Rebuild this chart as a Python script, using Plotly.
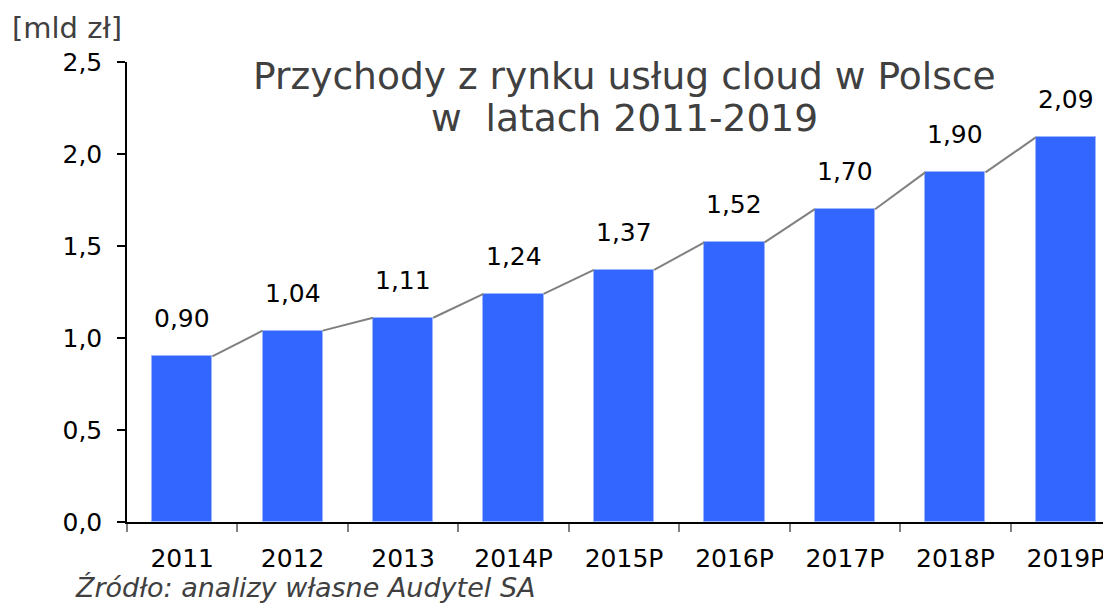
import plotly.graph_objects as go

categories = ["2011", "2012", "2013", "2014P", "2015P", "2016P", "2017P", "2018P", "2019P"]
values = [0.90, 1.04, 1.11, 1.24, 1.37, 1.52, 1.70, 1.90, 2.09]
y_ticks = [0.0, 0.5, 1.0, 1.5, 2.0, 2.5]

FONT = "DejaVu Sans"
BAR_W = 0.545
xs = list(range(len(categories)))

fig = go.Figure()
fig.add_trace(go.Bar(
    x=xs, y=values, width=BAR_W,
    marker=dict(color="#3366FF", line=dict(color="#9DB4FF", width=1)),
    hoverinfo="skip", showlegend=False,
))

# series lines connecting bar tops (Excel-style)
lx, ly = [], []
for i in range(len(values) - 1):
    lx += [xs[i] + BAR_W / 2, xs[i + 1] - BAR_W / 2, None]
    ly += [values[i], values[i + 1], None]
fig.add_trace(go.Scatter(x=lx, y=ly, mode="lines",
                         line=dict(color="#808080", width=2),
                         hoverinfo="skip", showlegend=False))

for x, v in zip(xs, values):
    fig.add_annotation(x=x, y=v, text=f"{v:.2f}".replace(".", ","),
                       showarrow=False, yanchor="bottom", yshift=21,
                       font=dict(family=FONT, size=25, color="#000000"))

fig.add_annotation(xref="paper", yref="paper", x=0.5056, y=0.969,
                   text="Przychody z rynku usług cloud w Polsce",
                   showarrow=False, xanchor="center", yanchor="middle",
                   font=dict(family=FONT, size=37.6, color="#404040"))
fig.add_annotation(xref="paper", yref="paper", x=0.5056, y=0.878,
                   text="w  latach 2011-2019",
                   showarrow=False, xanchor="center", yanchor="middle",
                   font=dict(family=FONT, size=37.6, color="#404040"))
fig.add_annotation(xref="paper", yref="paper", x=-0.119, y=1.074,
                   text="[mld zł]",
                   showarrow=False, xanchor="left", yanchor="middle",
                   font=dict(family=FONT, size=29, color="#404040"))
fig.add_annotation(xref="paper", yref="paper", x=-0.055, y=-0.143,
                   text="<i>Źródło: analizy własne Audytel SA</i>",
                   showarrow=False, xanchor="left", yanchor="middle",
                   font=dict(family=FONT, size=27, color="#404040"))

fig.update_layout(
    width=1103, height=595,
    margin=dict(l=119, r=1, t=54, b=81),
    paper_bgcolor="white", plot_bgcolor="white",
    separators=", ",
    bargap=0,
    font=dict(family=FONT, size=25, color="#000000"),
    xaxis=dict(range=[-0.5, 8.4], tickmode="array", tickvals=xs, ticktext=categories,
               ticks="", showline=True, linecolor="#000000", linewidth=1.5,
               showgrid=False, zeroline=False, ticklabelstandoff=13,
               minor=dict(tickmode="array", tickvals=[i - 0.5 for i in range(len(categories))],
                          ticks="outside", ticklen=8, tickcolor="#808080", tickwidth=1.5,
                          showgrid=False),
               tickfont=dict(family=FONT, size=25, color="#000000")),
    yaxis=dict(range=[0, 2.5], tickmode="array", tickvals=y_ticks, tickformat=".1f",
               ticks="outside", ticklen=8, tickcolor="#000000", tickwidth=1.5,
               showline=True, linecolor="#000000", linewidth=1.5,
               showgrid=False, zeroline=False, ticklabelstandoff=10,
               tickfont=dict(family=FONT, size=25, color="#000000")),
)

fig.write_html("out.html")
